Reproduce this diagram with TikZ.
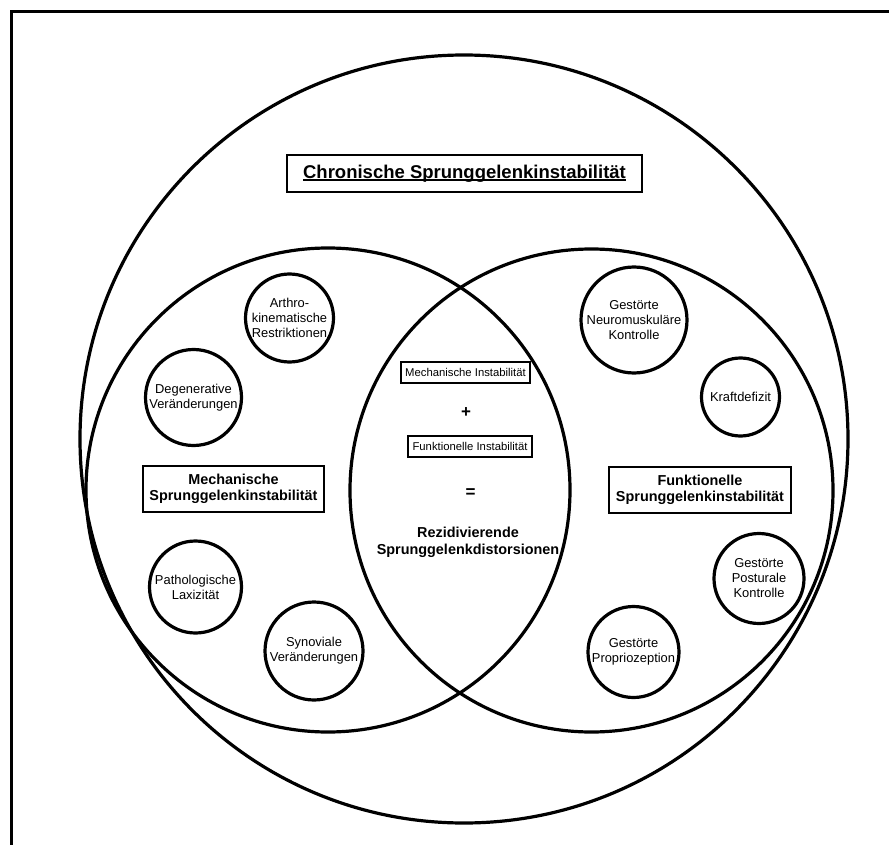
\documentclass[tikz,border=0pt]{standalone}
\usepackage{fontspec}
\setmainfont{Liberation Sans}
\usepackage{tikz}
\usetikzlibrary{positioning}
\newcommand{\underrule}[1]{\setbox0\hbox{#1}\rlap{\rule[-2.5pt]{\wd0}{1.4pt}}\box0}

\begin{document}
\begin{tikzpicture}[x=1pt,y=-1pt,
    bigcirc/.style={circle, draw, line width=3.2pt, inner sep=0pt, minimum size=#1},
    smallcirc/.style={circle, draw, line width=3.2pt, inner sep=0pt, minimum size=#1},
    circtext/.style={align=center, inner sep=0pt, font=\fontsize{12.9}{15}\selectfont},
    headbox/.style={draw, line width=2pt, align=center, inner sep=0pt, font=\bfseries\fontsize{14.4}{16.5}\selectfont},
    smallbox/.style={draw, line width=2pt, inner sep=0pt, minimum height=21, font=\fontsize{11.3}{13}\selectfont},
    sign/.style={font=\bfseries\fontsize{17}{19}\selectfont},
    bold/.style={align=center, font=\bfseries\fontsize{14.4}{16.5}\selectfont}]
    \path[use as bounding box] (0,0) rectangle (889,845);
    \draw[line width=3pt] (11,12) rectangle (920,880);

    \node[bigcirc=768] at (464,439) (outer) {};
    \node[bigcirc=484] at (328,490) (mech) {};
    \node[bigcirc=483] at (591.5,490.5) (funk) {};

    \node[draw, line width=2pt, inner sep=0pt, minimum width=355, minimum height=37, font=\bfseries\fontsize{18.5}{22}\selectfont] at (464.5,173.5) (title) {\underrule{Chronische Sprunggelenkinstabilität}};

    \node[headbox, minimum width=181, minimum height=46] at (233.5,489) (mechhead) {Mechanische\\Sprunggelenkinstabilität};
    \node[headbox, minimum width=182, minimum height=46] at (700,490) (funkhead) {Funktionelle\\Sprunggelenkinstabilität};

    \node[smallbox, minimum width=129] at (465.5,372.5) (mechinst) {Mechanische Instabilität};
    \node[sign] at (466,413) (plus) {+};
    \node[smallbox, minimum width=124] at (470,446) (funkinst) {Funktionelle Instabilität};
    \node[sign] at (470.5,493) (equal) {=};
    \node[bold] at (468,542.5) (rezid) {Rezidivierende\\Sprunggelenkdistorsionen};

    \node[smallcirc=88] at (289.5,318) (arthro) {};
    \node[circtext] at (arthro) (arthrotxt) {Arthro-\\kinematische\\Restriktionen};
    \node[smallcirc=96] at (193.5,397.5) (degen) {};
    \node[circtext] at (degen) (degentxt) {Degenerative\\Veränderungen};
    \node[smallcirc=92] at (195.5,587) (patho) {};
    \node[circtext] at (patho) (pathotxt) {Pathologische\\Laxizität};
    \node[smallcirc=98] at (314,651) (synov) {};
    \node[circtext] at (synov) (synovtxt) {Synoviale\\Veränderungen};

    \node[smallcirc=106] at (634,320) (neuro) {};
    \node[circtext] at (neuro) (neurotxt) {Gestörte\\Neuromuskuläre\\Kontrolle};
    \node[smallcirc=78] at (740.5,397) (kraft) {};
    \node[circtext] at (kraft) (krafttxt) {Kraftdefizit};
    \node[smallcirc=90] at (759,578.5) (postur) {};
    \node[circtext] at (postur) (posturtxt) {Gestörte\\Posturale\\Kontrolle};
    \node[smallcirc=91] at (633.5,652) (propr) {};
    \node[circtext] at (propr) (proprtxt) {Gestörte\\Propriozeption};
\end{tikzpicture}
\end{document}
